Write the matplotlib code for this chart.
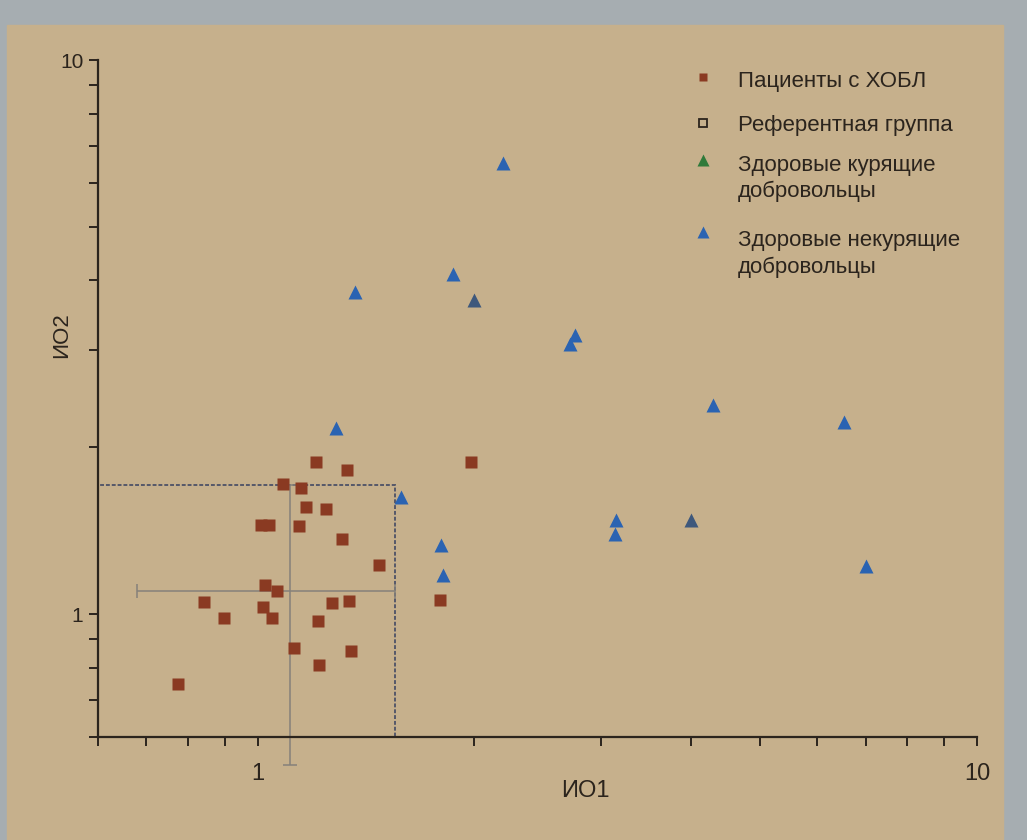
import matplotlib.pyplot as plt
from matplotlib.patches import Rectangle
from matplotlib.lines import Line2D

# Пациенты с ХОБЛ (ИО1, ИО2)
copd_x = [1.205, 1.33, 1.084, 1.15, 1.168, 1.243, 1.01, 1.038, 1.14, 1.31,
          1.476, 1.025, 1.064, 0.843, 1.27, 1.34, 1.016, 0.897, 1.048, 1.213,
          1.125, 1.348, 1.216, 0.775, 1.977, 1.79]
copd_y = [1.88, 1.82, 1.72, 1.69, 1.56, 1.55, 1.45, 1.45, 1.44, 1.365,
          1.225, 1.127, 1.10, 1.05, 1.047, 1.058, 1.03, 0.983, 0.983, 0.971,
          0.867, 0.856, 0.81, 0.747, 1.88, 1.06]

# Здоровые курящие добровольцы
smoker_x = [2.0, 4.0]
smoker_y = [3.69, 1.476]

# Здоровые некурящие добровольцы
nonsmoker_x = [2.19, 1.87, 1.367, 2.76, 2.72, 4.30, 6.54, 1.287, 1.58,
               3.15, 3.14, 1.80, 1.81, 7.0]
nonsmoker_y = [6.53, 4.11, 3.82, 3.19, 3.07, 2.38, 2.22, 2.17, 1.625,
               1.48, 1.395, 1.335, 1.176, 1.22]

# Референтная группа: медиана и диапазон
ref_med_x, ref_med_y = 1.11, 1.10
ref_low_x, ref_high_x = 0.68, 1.55
ref_low_y, ref_high_y = 0.535, 1.71

axis_min, axis_max = 0.6, 10

legend_labels = ['Пациенты с ХОБЛ', 'Референтная группа',
                 'Здоровые курящие', 'добровольцы',
                 'Здоровые некурящие', 'добровольцы']

paper = '#c6b08c'
ink = '#2b241d'
copd_color = '#8a3a22'
smoker_color = '#3e587c'
nonsmoker_color = '#2a63b2'
legend_smoker_color = '#2f7a3a'

plt.rcParams['font.family'] = ['Liberation Sans', 'DejaVu Sans']

fig = plt.figure(figsize=(10.27, 8.4), dpi=100, facecolor='#a6adb1')
fig.patches.append(Rectangle((7 / 1027, 0), 996 / 1027, 815 / 840,
                             transform=fig.transFigure, color=paper, zorder=-10))
ax = fig.add_axes([98 / 1027, 103 / 840, 879 / 1027, 677 / 840])
ax.set_facecolor('none')
ax.set_xscale('log')
ax.set_yscale('log')
ax.set_xlim(axis_min, axis_max)
ax.set_ylim(axis_min, axis_max)

# reference box and median crosshair
ax.add_patch(Rectangle((axis_min, axis_min), ref_high_x - axis_min, ref_high_y - axis_min,
                       fill=False, ec='#55586a', lw=1.4, ls=(0, (2, 1)), zorder=2))
ax.errorbar([ref_med_x], [ref_med_y],
            xerr=[[ref_med_x - ref_low_x], [ref_high_x - ref_med_x]],
            yerr=[[ref_med_y - ref_low_y], [ref_high_y - ref_med_y]],
            fmt='none', ecolor='#85817a', elinewidth=1.1, capsize=5,
            capthick=1.1, clip_on=False, zorder=2)

ax.plot(copd_x, copd_y, 's', ms=8.6, color=copd_color, mec='none', zorder=3)
ax.plot(nonsmoker_x, nonsmoker_y, '^', ms=10, color=nonsmoker_color, mec='none', zorder=3)
ax.plot(smoker_x, smoker_y, '^', ms=10, color=smoker_color, mec='none', zorder=4)

for s in ['top', 'right']:
    ax.spines[s].set_visible(False)
for s in ['left', 'bottom']:
    ax.spines[s].set_color(ink)
    ax.spines[s].set_linewidth(1.6)

ax.tick_params(which='both', direction='out', length=6.5, width=1.4, color=ink)
ax.tick_params(axis='x', which='both', pad=12, labelsize=17, labelcolor=ink)
ax.tick_params(axis='y', which='both', pad=4, labelsize=15, labelcolor=ink)
ax.set_xticks([1, 10])
ax.set_xticklabels(['1', '10'])
ax.set_yticks([1, 10])
ax.set_yticklabels(['1', '10'])
ax.set_xticks([0.6, 0.7, 0.8, 0.9, 2, 3, 4, 5, 6, 7, 8, 9], minor=True)
ax.set_yticks([0.6, 0.7, 0.8, 0.9, 2, 3, 4, 5, 6, 7, 8, 9], minor=True)
ax.xaxis.set_minor_formatter(plt.NullFormatter())
ax.yaxis.set_minor_formatter(plt.NullFormatter())

ax.set_xlabel('ИО1', fontsize=17, color=ink)
ax.set_ylabel('ИО2', fontsize=16, color=ink)
ax.xaxis.set_label_coords(0.554, -0.064)
ax.yaxis.set_label_coords(-0.03, 0.594)

# legend, drawn by hand so markers sit on the first text line
mk_x, txt_x = 0.6883, 0.7281
marker_rows = [0.9749, 0.9069, 0.8523, 0.7459]
handles = [dict(marker='s', ms=6, color=copd_color, mec='none'),
           dict(marker='s', ms=6, mfc='none', mec=ink, mew=1.3),
           dict(marker='^', ms=8, color=legend_smoker_color, mec='none'),
           dict(marker='^', ms=8, color=nonsmoker_color, mec='none')]
for yy, h in zip(marker_rows, handles):
    ax.add_line(Line2D([mk_x], [yy], transform=ax.transAxes, clip_on=False, ls='none', **h))
text_rows = [0.9601, 0.8951, 0.8361, 0.7976, 0.7253, 0.6854]
for yy, lab in zip(text_rows, legend_labels):
    ax.text(txt_x, yy, lab, transform=ax.transAxes, fontsize=16, color=ink,
            va='baseline', ha='left')

fig.savefig('out.png', dpi=100, facecolor=fig.get_facecolor())
